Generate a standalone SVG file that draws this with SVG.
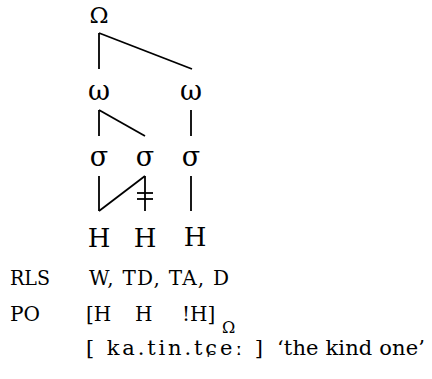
<svg xmlns="http://www.w3.org/2000/svg" width="432" height="379" viewBox="0 0 432 379">
<style>
text{font-family:"DejaVu Serif","Liberation Serif",serif;fill:#000}
.n{font-size:26px;text-anchor:middle}
.g{font-size:27px;text-anchor:middle}
.t{font-size:20px}
.gl{font-size:21px}
line{stroke:#000;stroke-width:1.8;stroke-linecap:butt}
</style>
<rect width="432" height="379" fill="#fff"/>
<g id="utterance"><text class="g" x="99" y="23" style="font-size:23px">Ω</text></g>
<g id="phrase1"><text class="g" x="99" y="100">ω</text></g>
<g id="phrase2"><text class="g" x="191" y="100">ω</text></g>
<g id="syl1"><text class="g" x="99" y="166">σ</text></g>
<g id="syl2"><text class="g" x="145" y="166">σ</text></g>
<g id="syl3"><text class="g" x="191" y="166">σ</text></g>
<g id="tone1"><text class="n" x="99" y="247">H</text></g>
<g id="tone2"><text class="n" x="145" y="247">H</text></g>
<g id="tone3"><text class="n" x="195" y="246">H</text></g>
<g id="connectors">
<line x1="99" y1="33" x2="99" y2="69"/>
<line x1="99" y1="33" x2="192" y2="69"/>
<line x1="99" y1="110" x2="99" y2="136"/>
<line x1="99" y1="110" x2="145" y2="136"/>
<line x1="191" y1="110" x2="191" y2="136"/>
<line x1="99" y1="176" x2="99" y2="211"/>
<line x1="99" y1="211" x2="145" y2="176"/>
<line x1="145" y1="176" x2="145" y2="211"/>
<line x1="137" y1="193" x2="153" y2="193"/>
<line x1="137" y1="199" x2="153" y2="199"/>
<line x1="191" y1="176" x2="191" y2="211"/>
</g>
<g id="rls"><text class="t" x="10" y="285" textLength="40" lengthAdjust="spacingAndGlyphs">RLS</text><text class="t" x="89" y="285" textLength="140" lengthAdjust="spacing">W, TD, TA, D</text></g>
<g id="po"><text class="t" x="10" y="321" textLength="30" lengthAdjust="spacingAndGlyphs">PO</text><text class="t" x="86" y="321">[H</text><text class="t" x="135" y="321">H</text><text class="t" x="182" y="321">!H]</text><text x="222" y="333" style="font-size:16px">Ω</text></g>
<g id="gloss"><text class="gl" x="86" y="355" textLength="177" lengthAdjust="spacing">[ ka.tin.tɕeː ]</text><text class="gl" x="277" y="355" textLength="148" lengthAdjust="spacing">‘the kind one’</text></g>
</svg>
